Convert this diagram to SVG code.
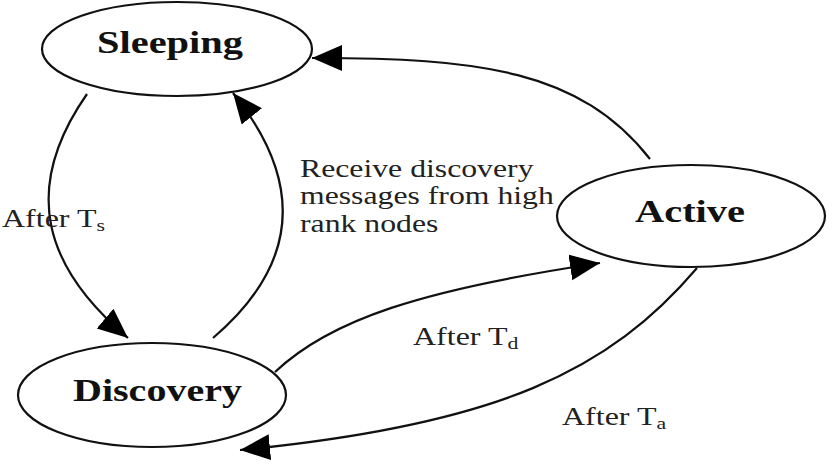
<svg xmlns="http://www.w3.org/2000/svg" width="838" height="467" viewBox="0 0 838 467">
<style>
.node{fill:#fff;stroke:#111;stroke-width:2.2}
.nl{font-family:"Liberation Serif",serif;font-weight:bold;font-size:31px;fill:#111}
.edge{fill:none;stroke:#111;stroke-width:2.2}
.lbl{font-family:"Liberation Serif",serif;font-size:25px;fill:#222}
.sub{font-size:17px}
</style>
<defs>
<marker id="ah" markerUnits="userSpaceOnUse" markerWidth="32" markerHeight="28" refX="30" refY="13" orient="auto">
<path d="M0,0 L30,13 L0,26 z" fill="#000"/>
</marker>
</defs>
<rect width="838" height="467" fill="#fff"/>
<g id="connectors">
<path class="edge" d="M87,94 C20,190 45,268 128,338" marker-end="url(#ah)"/>
<path class="edge" d="M213,338 C310,255 295,170 233,93" marker-end="url(#ah)"/>
<path class="edge" d="M650,159 C580,70 480,58 312,58" marker-end="url(#ah)"/>
<path class="edge" d="M275,372 C330,320 420,290 600,263" marker-end="url(#ah)"/>
<path class="edge" d="M697,268 C610,370 500,425 240,450" marker-end="url(#ah)"/>
</g>
<g id="sleeping">
<ellipse class="node" cx="177" cy="49" rx="135" ry="47"/>
<text class="nl" x="97" y="53" textLength="146" lengthAdjust="spacingAndGlyphs">Sleeping</text>
</g>
<g id="discovery">
<ellipse class="node" cx="152" cy="395" rx="134" ry="52"/>
<text class="nl" x="73" y="401" textLength="169" lengthAdjust="spacingAndGlyphs">Discovery</text>
</g>
<g id="active">
<ellipse class="node" cx="691" cy="216" rx="134" ry="51"/>
<text class="nl" x="635" y="222" textLength="110" lengthAdjust="spacingAndGlyphs">Active</text>
</g>
<g id="labels">
<text class="lbl" transform="translate(2,227) scale(1.28,1)">After T<tspan class="sub" dy="4">s</tspan></text>
<text class="lbl" transform="translate(300,177) scale(1.27,1)"><tspan x="0" y="0">Receive discovery</tspan><tspan x="0" y="27.5">messages from high</tspan><tspan x="0" y="55">rank nodes</tspan></text>
<text class="lbl" transform="translate(413,345) scale(1.28,1)">After T<tspan class="sub" dy="4">d</tspan></text>
<text class="lbl" transform="translate(562,425) scale(1.28,1)">After T<tspan class="sub" dy="4">a</tspan></text>
</g>
</svg>
